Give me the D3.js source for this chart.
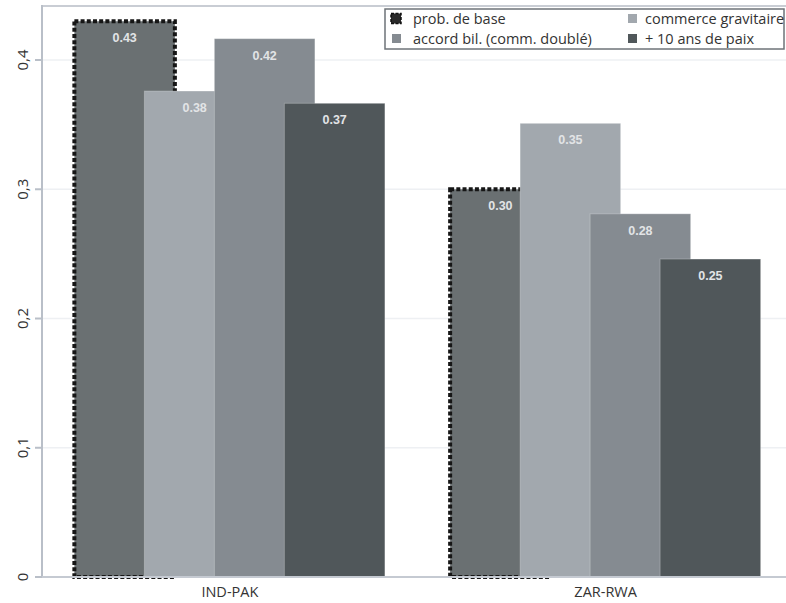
<!DOCTYPE html>
<html>
<head>
<meta charset="utf-8">
<script src="https://cdn.jsdelivr.net/npm/d3@7/dist/d3.min.js"></script>
<style>
html,body{margin:0;padding:0;background:#fff;}
svg{display:block;}
</style>
</head>
<body>
<svg id="chart" width="786" height="603"></svg>
<script>
const categories = ["IND-PAK", "ZAR-RWA"];
const seriesNames = ["prob. de base", "commerce gravitaire", "accord bil. (comm. doublé)", "+ 10 ans de paix"];
const baseProb = [0.43, 0.30];
const gravity = [0.376, 0.351];
const bilateral = [0.4165, 0.281];
const peace = [0.3665, 0.246];
const valueLabels = [["0.43", "0.38", "0.42", "0.37"], ["0.30", "0.35", "0.28", "0.25"]];
const yTicks = [0, 0.1, 0.2, 0.3, 0.4];
const yTickLabels = ["0", "0,1", "0,2", "0,3", "0,4"];
const colors = ["#6a7072", "#a2a8ae", "#858b91", "#50575a"];

const series = [baseProb, gravity, bilateral, peace];

const svg = d3.select("#chart");
const plotLeft = 42, plotRight = 793.5, plotTop = 6, plotBottom = 577;
const yMax = 0.4418;

const x = d3.scaleBand().domain(categories).range([plotLeft, plotRight]).padding(0);
const inner = d3.scaleLinear().domain([0, 3]).range([-155.5, 54.5]);
const barW = 100.5;
const y = d3.scaleLinear().domain([0, yMax]).range([plotBottom, plotTop]);

const font = "'Open Sans', 'Noto Sans', sans-serif";

// gridlines
svg.append("g").selectAll("line").data(yTicks.filter(d => d > 0)).join("line")
  .attr("x1", plotLeft).attr("x2", 786)
  .attr("y1", d => y(d)).attr("y2", d => y(d))
  .attr("stroke", "#eef0f3").attr("stroke-width", 1.5);

// top frame
svg.append("line").attr("x1", plotLeft).attr("x2", 786).attr("y1", plotTop).attr("y2", plotTop)
  .attr("stroke", "#c9cdd4").attr("stroke-width", 2);

// bars
const gBars = svg.append("g");
categories.forEach((c, ci) => {
  series.forEach((s, si) => {
    const x0 = x(c) + x.bandwidth() / 2 + inner(si);
    gBars.append("rect")
      .attr("x", x0).attr("y", y(s[ci]))
      .attr("width", barW).attr("height", y(0) - y(s[ci]))
      .attr("fill", colors[si])
      .attr("stroke", si === 0 ? "#161616" : "rgba(255,255,255,0.25)")
      .attr("stroke-width", si === 0 ? 4 : 1)
      .attr("stroke-dasharray", si === 0 ? "4,2.2" : null);
  });
});

// value labels
categories.forEach((c, ci) => {
  series.forEach((s, si) => {
    const cx = x(c) + x.bandwidth() / 2 + inner(si) + barW / 2;
    svg.append("text")
      .attr("x", cx).attr("y", y(s[ci]) + 21)
      .attr("text-anchor", "middle")
      .attr("font-family", "'Liberation Sans', Arial, sans-serif")
      .attr("font-size", 12.5).attr("font-weight", "bold")
      .attr("fill", "#e2e4e6")
      .text(valueLabels[ci][si]);
  });
});

// y axis
svg.append("line").attr("x1", plotLeft).attr("x2", plotLeft).attr("y1", plotTop - 1).attr("y2", plotBottom + 1)
  .attr("stroke", "#b9bfc8").attr("stroke-width", 2);
svg.append("line").attr("x1", 35).attr("x2", 786).attr("y1", plotBottom).attr("y2", plotBottom)
  .attr("stroke", "#c5cad2").attr("stroke-width", 2);
const yt = svg.append("g");
yTicks.forEach((t, i) => {
  yt.append("line").attr("x1", 35).attr("x2", plotLeft).attr("y1", y(t)).attr("y2", y(t))
    .attr("stroke", "#b9bfc8").attr("stroke-width", 2);
  yt.append("text")
    .attr("transform", `translate(27.5,${y(t)}) rotate(-90)`)
    .attr("text-anchor", "middle")
    .attr("font-family", font).attr("font-size", 15).attr("fill", "#333")
    .text(yTickLabels[i]);
});

// x labels
categories.forEach(c => {
  svg.append("text")
    .attr("x", x(c) + x.bandwidth() / 2).attr("y", 597)
    .attr("text-anchor", "middle")
    .attr("font-family", font).attr("font-size", 14.5).attr("fill", "#333")
    .text(c);
});

// legend
const lg = svg.append("g");
const lx = 385, ly = 9, lw = 399, lh = 40;
lg.append("rect").attr("x", lx).attr("y", ly).attr("width", lw).attr("height", lh)
  .attr("fill", "#fff").attr("stroke", "#6e7378").attr("stroke-width", 1.5);
const legendPos = [[391, 18.5], [627, 18.5], [391, 38.5], [627, 38.5]];
const legendTextX = [413, 645, 413, 645];
legendPos.forEach(([mx, my], si) => {
  if (si === 0) {
    lg.append("rect").attr("x", mx).attr("y", my - 5).attr("width", 10).attr("height", 10)
      .attr("fill", "#2a2a2a").attr("stroke", "#111").attr("stroke-width", 1.5)
      .attr("stroke-dasharray", "3,1.5");
  } else {
    lg.append("rect").attr("x", mx + 1).attr("y", my - 4.5).attr("width", 9).attr("height", 9)
      .attr("fill", colors[[0, 1, 2, 3][si]]);
  }
  lg.append("text").attr("x", legendTextX[si]).attr("y", my + 5)
    .attr("font-family", font).attr("font-size", 14.5).attr("fill", "#333")
    .attr("textLength", null)
    .text(seriesNames[si]);
});
</script>
</body>
</html>
